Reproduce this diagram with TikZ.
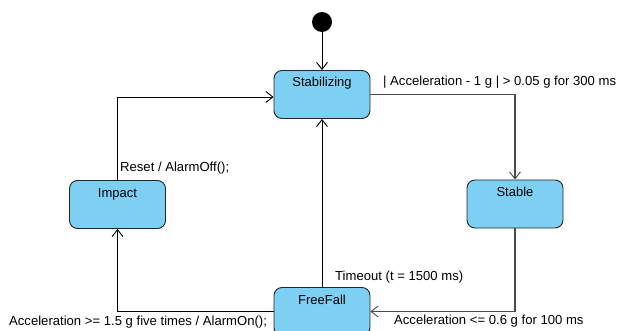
\documentclass[tikz,border=0pt]{standalone}
\usepackage{fontspec}
\setmainfont{Liberation Sans}
\usetikzlibrary{arrows.meta}
\definecolor{statefill}{HTML}{7DCFF4}
\definecolor{flowgray}{HTML}{4A4A4A}
\tikzset{
  state/.style={draw=black!85, fill=statefill, rounded corners=8pt, line width=0.9pt,
    inner xsep=3pt, inner ysep=4.5pt, anchor=center},
  initdot/.style={circle, fill=black, minimum size=20pt, inner sep=0pt},
  trans/.style={draw=black, line width=0.9pt, -{Straight Barb[length=7pt,width=11pt,line width=0.9pt]}},
  transg/.style={trans, draw=flowgray, line width=1.3pt},
  lbl/.style={inner sep=0pt, font=\fontsize{13.1}{15}\selectfont},
}
\newcommand{\statetext}[1]{\parbox[t][39pt][t]{90pt}{\centering\fontsize{13}{15}\selectfont\rule{0pt}{12pt}#1}}
\begin{document}
\begin{tikzpicture}[x=1pt, y=-1pt]
  \useasboundingbox (0,0) rectangle (618,331);
  % states
  \node[initdot] (init) at (322,22) {};
  \node[state] (stab) at (322,94.5) {\statetext{Stabilizing}};
  \node[state] (stable) at (515,204) {\statetext{Stable}};
  \node[state] (impact) at (117.5,204.5) {\statetext{Impact}};
  \node[state] (free) at (322,311.5) {\statetext{FreeFall}};
  % transitions
  \draw[trans] (init) -- (stab.north);
  \draw[transg] (stab.east) -| (stable.north);
  \draw[transg] (stable.south) |- (free.east);
  \draw[trans] (free.west) -| (impact.south);
  \draw[trans] (impact.north) |- ([yshift=-2.5pt]stab.west);
  \draw[trans] (free.north) -- (stab.south);
  % transition labels
  \node[lbl, anchor=west] (l1) at (383,82) {| Acceleration - 1 g | > 0.05 g for 300 ms};
  \node[lbl, anchor=west] (l2) at (120,168) {Reset / AlarmOff();};
  \node[lbl, anchor=west] (l3) at (9,322) {Acceleration >= 1.5 g five times / AlarmOn();};
  \node[lbl, anchor=west] (l4) at (335,277) {Timeout (t = 1500 ms)};
  \node[lbl, anchor=west] (l5) at (394,321) {Acceleration <= 0.6 g for 100 ms};
\end{tikzpicture}
\end{document}
